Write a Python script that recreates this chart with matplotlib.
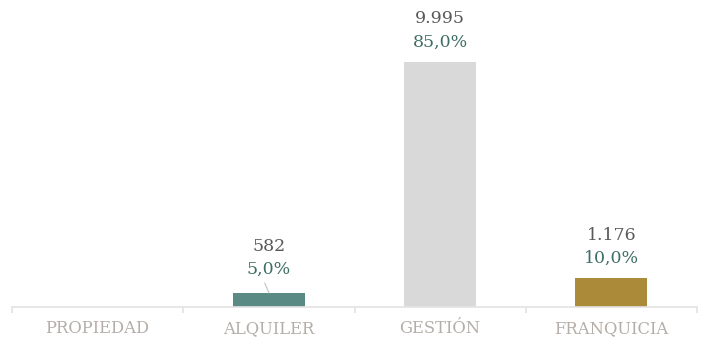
import matplotlib
matplotlib.use("Agg")
import matplotlib.pyplot as plt

categories = ["PROPIEDAD", "ALQUILER", "GESTIÓN", "FRANQUICIA"]
values = [0, 582, 9995, 1176]
bar_colors = ["#5a8a84", "#5a8a84", "#d9d9d9", "#ab8a3a"]

STYLE = {
    "font": "DejaVu Serif",
    "value_color": "#595959",
    "pct_color": "#3f6e66",
    "tick_color": "#b5aea8",
    "axis_color": "#e3e3e3",
    "leader_color": "#c8c8c8",
    "bar_width": 0.42,
}

s = STYLE
total = sum(values)

fig = plt.figure(figsize=(7.02, 3.39), dpi=100)
ax = fig.add_axes([12 / 702, 32 / 339, 685 / 702, 307 / 339])

x = range(len(categories))
ax.bar(x, values, width=s["bar_width"], color=bar_colors, zorder=2)
ax.set_xlim(-0.5, len(categories) - 0.5)
ax.set_ylim(0, 12525)

for side in ["top", "right", "left"]:
    ax.spines[side].set_visible(False)
ax.spines["bottom"].set_color(s["axis_color"])
ax.spines["bottom"].set_linewidth(1.2)
ax.set_yticks([])

# boundaries between categories carry the tick marks, labels sit in the middle
ax.set_xticks([i - 0.5 for i in range(len(categories) + 1)])
ax.set_xticklabels([])
ax.tick_params(axis="x", length=4, width=1.2, color=s["axis_color"])
for i, cat in enumerate(categories):
    ax.annotate(cat, (i, 0), xytext=(0, -15.5), textcoords="offset points",
                ha="center", va="center", fontsize=11.8, family=s["font"],
                color=s["tick_color"])

for i, v in enumerate(values):
    if v == 0:
        continue
    num = f"{v:,}".replace(",", ".")
    pct = f"{v / total * 100:.1f}%".replace(".", ",")
    lift = 16.5 if v < 1000 else 14.5
    if v < 1000:
        # small bar: label pushed up with a short leader line
        ax.annotate("", (i, v), xytext=(-3, 7), textcoords="offset points",
                    arrowprops=dict(arrowstyle="-", color=s["leader_color"], lw=0.9,
                                    shrinkA=0, shrinkB=0))
    ax.annotate(pct, (i, v), xytext=(0, lift), textcoords="offset points",
                ha="center", va="center", fontsize=12.5, family=s["font"],
                color=s["pct_color"])
    ax.annotate(num, (i, v), xytext=(0, lift + 16.5), textcoords="offset points",
                ha="center", va="center", fontsize=12.5, family=s["font"],
                color=s["value_color"])

fig.savefig("out.png", dpi=100)
